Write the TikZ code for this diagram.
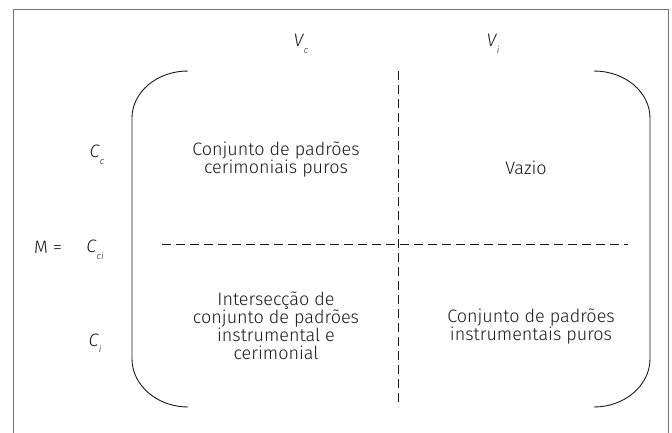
\documentclass[tikz,border=0pt]{standalone}
\usepackage{fontspec}
\setmainfont{Fira Sans Light}
\usetikzlibrary{positioning}
\definecolor{framegray}{RGB}{115,115,115}
\definecolor{inkgray}{RGB}{25,25,25}
\newcommand{\sublbl}[2]{\textit{#1\kern0.5pt\raisebox{-6.5pt}{\fontsize{9.5}{9.5}\selectfont #2}}}
\tikzset{
  cell/.style={align=center,font=\fontsize{18}{18}\selectfont,text=inkgray,inner sep=0pt},
  lbl/.style={font=\fontsize{18}{18}\selectfont,text=inkgray,inner sep=0pt},
  divider/.style={draw=inkgray,line width=0.8pt,dash pattern=on 9pt off 5pt},
  brace/.style={draw=inkgray,line width=0.9pt}
}
\begin{document}
\begin{tikzpicture}[x=1pt,y=-1pt]
        \useasboundingbox (0,0) rectangle (672,432);
        % frame
        \draw[framegray,line width=1pt] (13,445)--(13,9)--(668,9)--(668,445);
        % column and row labels
        \node[lbl] (vc) at (301,44) {\sublbl{V}{c}};
        \node[lbl] (vi) at (493,44) {\sublbl{V}{i}};
        \node[lbl] (cc) at (97,155) {\sublbl{C}{c}};
        \node[lbl] (cci) at (95,250) {\sublbl{C}{ci}};
        \node[lbl] (ci) at (95,343) {\sublbl{C}{i}};
        \node[lbl] (meq) at (48,247) {M =};
        % brackets
        \draw[brace] (188,71) .. controls (157,71) and (132,92) .. (132,118)
            -- (132,359) .. controls (132,385) and (157,407) .. (188,407);
        \draw[brace] (594,71) .. controls (625,71) and (650,92) .. (650,118)
            -- (650,359) .. controls (650,385) and (625,407) .. (594,407);
        % dividers
        \draw[divider] (398,71)--(398,407);
        \draw[divider] (162,244)--(628,244);
        % cells
        \node[cell] (cer) at (276,160) {Conjunto de padrões\\cerimoniais puros};
        \node[cell] (vaz) at (526,168) {Vazio};
        \node[cell] (inter) at (276,325.5) {Intersecção de\\conjunto de padrões\\instrumental e\\cerimonial};
        \node[cell] (ins) at (531,327) {Conjunto de padrões\\instrumentais puros};
\end{tikzpicture}
\end{document}
